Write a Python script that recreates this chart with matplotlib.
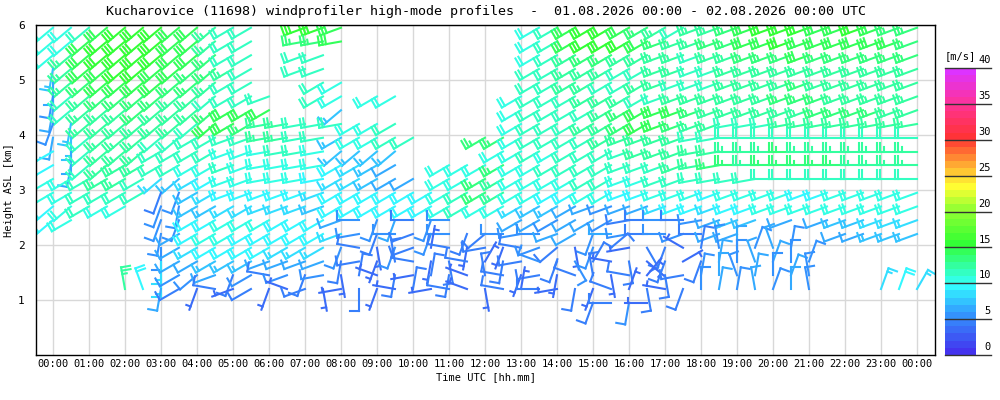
import numpy as np
import matplotlib
matplotlib.use('Agg')
import matplotlib.pyplot as plt
from matplotlib.collections import LineCollection
from matplotlib.colors import LinearSegmentedColormap, BoundaryNorm

TITLE = ('Kucharovice (11698) windprofiler high-mode profiles  -  '
         '01.08.2026 00:00 - 02.08.2026 00:00 UTC')

# profile times: every 30 min from 00:00 to 00:00 next day (hours)
TIME_STEP_H = 0.5
N_TIMES = 49
TICK_HOURS = list(range(25))
TICK_LABELS = ['%02d:00' % (h % 24) for h in TICK_HOURS]

# range gates (km ASL), top to bottom, same order as the rows below
HEIGHTS_KM = [5.95, 5.7, 5.45, 5.2, 4.95, 4.7, 4.45, 4.2, 3.95, 3.7, 3.45,
              3.2, 2.95, 2.7, 2.45, 2.2, 1.95, 1.7, 1.45, 1.2, 0.95]

# wind speed [m/s], base36 per profile ('.' = no data), one pair per hour
SPEED_ROWS = [
    "aa be ff fe ec bb .. ff e. .. .. .. .. .a be ff ed cb cc de ff fe ef ed d",
    "aa ef ff fe ec bb .. dd e. .. .. .. .. .a be ff fe dc cd de ef ee ee ee d",
    "ac ef ff fe ed bb .. bb .. .. .. .. .. .a bc dd cc cc bc cd dd ed dd dd d",
    "7c ee ff ee dd cb .. bb .. .. .. .. .. .b bc cc bb cc bb cc cc cc cc cc c",
    "6c de ee ed dc bb .. .b a. .. .. .. .. .b bc cb bc cb bb cc cc dc cc cc c",
    "5b cd dd dc cb bb b. .b a. aa .. .. .. ab bb cc cb bc cc cc cd dd cc cc c",
    "6b cc cd cc cd ee e. .. 7. .. .. .. .. ab bb bc de ee dc cc cc cd dd dc c",
    "57 cc cc cc be ed cc bb ba ab .. .. .. ab bb cc de ed cc bb bc cc cc cc c",
    "67 bc cc bb bb bb cc bb 7a ab b. .. dd ab bb bc cc cc bb bb bb bb bb bb b",
    "96 bc cc bb bb aa ab ba 77 77 .. .. .a ab ab bb bc cc cc cc cd cc cc cc c",
    "96 bc cc bb aa ba aa aa 98 76 .. aa ad aa bb bb bb bc cd dc dd dd dc cc c",
    "aa bc cb 87 89 aa aa a9 88 76 6. aa dc aa aa bb aa bb bb bb bb bb bb bb b",
    "aa bb bb 45 78 99 99 98 99 99 99 ab dc aa 99 aa 99 aa a9 aa aa 99 aa aa a",
    "9a ba a. 55 77 88 88 87 99 99 99 ab aa 87 76 65 66 89 98 99 aa aa aa aa a",
    "9a .. .. 55 99 aa a9 99 65 56 45 5. .. 66 56 65 44 54 56 77 .6 .6 77 88 8",
    ".. .. .. 56 9a a9 99 99 85 45 45 54 45 55 66 56 54 55 46 6. .. .. 66 77 7",
    ".. .. .. 56 89 99 98 88 54 35 43 43 43 45 43 54 34 43 45 65 65 .. .. .. .",
    ".. .. .. 86 67 77 66 66 44 34 43 44 34 45 45 43 43 43 46 56 65 5. .. .. .",
    ".. .. .. 85 56 45 45 45 34 34 34 43 44 34 34 43 43 44 56 56 56 5. .. .. .",
    ".. .. c9 64 34 34 33 43 34 33 43 43 34 34 34 34 34 34 56 56 56 5. .. 89 8",
    ".. .. .. .. .. .. .. .. .. .. .. .. .. .. .. 44 53 .. .. .. .. .. .. .. .",
]

# wind direction [deg/10], base36 per profile, same layout
DIR_ROWS = [
    "nn nn nn nn nn oo .. pp p. .. .. .. .. .o oo oo oo oo pp pp pp pp pp pp p",
    "nn nn nn nn nn oo .. qq q. .. .. .. .. .o oo oo oo pp pp pp pp pp pp pp p",
    "nn nn nn nn nn oo .. pp .. .. .. .. .. .o oo oo oo pp pp pp pp pp pp pp p",
    "jn nn nn nn nn oo .. pp .. .. .. .. .. .o oo oo oo pp pp pp pp pp pp pp p",
    "in nn nn nn nn oo .. .o o. .. .. .. .. .o oo oo oo pp pp pp pp pp pp pp p",
    "jn nn nn nn nn oo p. .o o. oo .. .. .. oo oo oo oo pp pp pp pp pp pp pp p",
    "jn nn nn nn nn oo o. .. n. .. .. .. .. oo oo oo oo pp pp pp pp pp pp pp p",
    "kj nn nn nn nn oo qq qq qo oo .. .. .. oo oo oo oo pp pp qq qq qq qq qq q",
    "ji nn nn nn oo pp qq qq oo oo o. .. oo oo oo oo pp pp qq rr rr rr rr rr r",
    "oi nn nn oo oo pp qq qq nn nn .. .. .o oo oo oo pp pp qq rr rr rr rr rr r",
    "oj nn oo oo oo pp qq qq oo oo .. oo oo oo oo oo pp pp qq rr rr rr rr rr r",
    "oo oo oo nn oo pp qq qq oo oo o. oo oo oo oo oo pp pp qq qq rr rr rr rr r",
    "oo oo oo kk oo pp pp pp oo oo oo oo oo oo oo oo pp pp pp pp pp pp pp pp p",
    "nn oo oo kj oo oo pp pp oo oo oo oo oo oo oo pp pp pp pp pp pp pp pp pp p",
    "no .. .. kk oo oo oo oo pr kk rk r. .. oo oo oo qr rr qp pp .p .p pp pp p",
    ".. .. .. jo oo oo oo oo pq kr pk rk nr qr po kr qr rp rp p. .. .. pp pp p",
    ".. .. .. io oo oo oo oo ks hk p1 sj qk sp nh k5 qf ku 1z 02 y1 .. .. .. .",
    ".. .. .. io oo oo pp pp jq kz sj hs 3j qt kf 3s hd k6 k1 0y 20 2. .. .. .",
    ".. .. .. io np ko sp kq h1 tj q1 jt zs kq jt zh s4 hq 10 y1 02 z. .. .. .",
    ".. .. zy jo ks po kt ph qi ks 1q st hs 1r qj kt 2h sk 01 1z 20 z. .. 22 3",
    ".. .. .. .. .. .. .. .. .. .. .. .. .. .. .. kr jr .. .. .. .. .. .. .. .",
]

# colour scale of the speed bar (m/s at cell centre -> colour)
SCALE_SPEEDS = [0.5, 5.5, 9.5, 15.5, 20.5, 23.5, 25.5, 30.5, 35.5, 39.5]
SCALE_COLORS = ['#4433ee', '#3399ff', '#33ffff', '#33ff33', '#99ff33',
                '#ffff33', '#ffcc33', '#ff3333', '#ff3399', '#dd33ff']
SCALE_TICKS = [0, 5, 10, 15, 20, 25, 30, 35, 40]

B36 = '0123456789abcdefghijklmnopqrstuvwxyz'


def decode(rows, scale):
    out = np.full((len(rows), N_TIMES), np.nan)
    for i, row in enumerate(rows):
        row = row.replace(' ', '')
        for j, ch in enumerate(row):
            if ch != '.':
                out[i, j] = B36.index(ch) * scale
    return out


speed = decode(SPEED_ROWS, 1)
direction = decode(DIR_ROWS, 10)
times = np.arange(N_TIMES) * TIME_STEP_H

pos = [v / 40.0 for v in SCALE_SPEEDS]
pos[0], pos[-1] = 0.0, 1.0
cmap = LinearSegmentedColormap.from_list('wind', list(zip(pos, SCALE_COLORS))).resampled(40)
norm = BoundaryNorm(np.arange(41), cmap.N)

plt.rcParams['font.family'] = 'DejaVu Sans Mono'
fig = plt.figure(figsize=(10, 4), dpi=100)
ax = fig.add_axes([0.036, 0.1125, 0.899, 0.825])
ax.set_xlim(-0.47, 24.5)
ax.set_ylim(0, 6)
ax.set_xticks(TICK_HOURS)
ax.set_xticklabels(TICK_LABELS, fontsize=7.5)
ax.set_yticks([1, 2, 3, 4, 5, 6])
ax.set_yticklabels(['1', '2', '3', '4', '5', '6'], fontsize=8)
ax.tick_params(length=0, pad=3)
ax.tick_params(axis='y', pad=8)
ax.grid(color='#d8d8d8', lw=1)
ax.set_axisbelow(True)
for sp in ax.spines.values():
    sp.set_linewidth(1)
ax.set_xlabel('Time UTC [hh.mm]', fontsize=7.5, labelpad=2)
fig.text(0.009, 0.525, 'Height ASL [km]', rotation=90, ha='center', va='center', fontsize=7.5)
fig.text(0.4855, 0.97, TITLE, ha='center', va='center', fontsize=9.6)

# wind barbs built in pixel space, drawn in data space
STAFF, FEATHER, GAP = 22.0, 9.0, 3.4
to_px = ax.transData
to_data = ax.transData.inverted()
segs, cols = [], []
for i, h in enumerate(HEIGHTS_KM):
    for j, t in enumerate(times):
        s = speed[i, j]
        if np.isnan(s):
            continue
        d = np.deg2rad(direction[i, j])
        px, py = to_px.transform((t, h))
        ex, ey = np.sin(d), np.cos(d)
        fx, fy = ey, -ex
        lines = [[(px, py), (px + STAFF * ex, py + STAFF * ey)]]
        n_full, n_half = divmod(int(round(s / 2.5)), 2)
        p = STAFF
        for k in range(n_full):
            bx, by = px + p * ex, py + p * ey
            lines.append([(bx, by), (bx + FEATHER * fx, by + FEATHER * fy)])
            p -= GAP
        if n_half:
            if n_full == 0:
                p -= GAP
            bx, by = px + p * ex, py + p * ey
            lines.append([(bx, by), (bx + FEATHER / 2 * fx, by + FEATHER / 2 * fy)])
        c = cmap(norm(s))
        for ln in lines:
            segs.append(to_data.transform(ln))
            cols.append(c)

ax.add_collection(LineCollection(segs, colors=cols, linewidths=1.5, capstyle='projecting'))

# speed colour bar
cax = fig.add_axes([0.945, 0.1125, 0.031, 0.7175])
cax.imshow(np.arange(40).reshape(-1, 1) + 0.5, cmap=cmap, norm=norm,
           extent=(0, 1, 0, 40), origin='lower', aspect='auto')
cax.set_xlim(0, 1)
cax.set_ylim(0, 40)
cax.axis('off')
for v in SCALE_TICKS:
    cax.plot([0, 1.48], [v, v], color='#333333', lw=1, clip_on=False)
    cax.text(1.48, v + 0.4, str(v), ha='right', va='bottom', fontsize=7.5)
cax.text(0.0, 41.0, '[m/s]', ha='left', va='bottom', fontsize=7.5)

fig.savefig('out.png', dpi=100)
